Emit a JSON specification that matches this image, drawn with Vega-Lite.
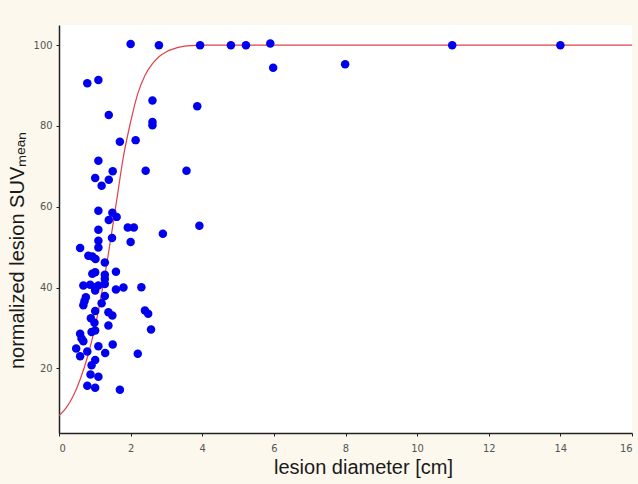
{
  "$schema": "https://vega.github.io/schema/vega-lite/v6.json",
  "width": 573,
  "height": 408,
  "autosize": {"type": "none"},
  "padding": {"left": 59, "top": 25, "right": 6, "bottom": 51},
  "background": "#fcf8ee",
  "view": {"fill": "#ffffff", "stroke": null},
  "config": {
    "axis": {
      "grid": false,
      "domainColor": "#222222",
      "domainWidth": 1.5,
      "tickColor": "#222222",
      "tickSize": 3,
      "labelFont": "Liberation Sans Narrow, DejaVu Sans Condensed, sans-serif",
      "labelFontSize": 11,
      "labelColor": "#555555",
      "titleFont": "Liberation Sans, Arial, sans-serif",
      "titleFontSize": 20,
      "titleFontWeight": "normal",
      "titleColor": "#1a1a1a"
    }
  },
  "datasets": {
    "pts": [
      {"d": 2.0, "suv": 100.3}, {"d": 2.79, "suv": 100}, {"d": 3.94, "suv": 100}, {"d": 4.8, "suv": 100},
      {"d": 5.22, "suv": 100}, {"d": 5.9, "suv": 100.4}, {"d": 5.98, "suv": 94.4}, {"d": 7.99, "suv": 95.3},
      {"d": 10.98, "suv": 100}, {"d": 14.0, "suv": 100}, {"d": 0.79, "suv": 90.6}, {"d": 1.1, "suv": 91.4},
      {"d": 1.39, "suv": 82.7}, {"d": 1.7, "suv": 76.1}, {"d": 2.14, "suv": 76.5}, {"d": 2.61, "suv": 86.3},
      {"d": 2.61, "suv": 81.0}, {"d": 2.61, "suv": 80.2}, {"d": 3.86, "suv": 84.9}, {"d": 1.1, "suv": 71.4},
      {"d": 1.01, "suv": 67.1}, {"d": 1.19, "suv": 65.2}, {"d": 1.39, "suv": 66.7}, {"d": 1.5, "suv": 68.8},
      {"d": 2.42, "suv": 68.9}, {"d": 3.56, "suv": 68.9}, {"d": 1.1, "suv": 59.0}, {"d": 1.49, "suv": 58.5},
      {"d": 1.61, "suv": 57.5}, {"d": 1.39, "suv": 56.7}, {"d": 1.92, "suv": 54.9}, {"d": 2.09, "suv": 54.9},
      {"d": 2.9, "suv": 53.3}, {"d": 3.92, "suv": 55.3}, {"d": 1.1, "suv": 54.3}, {"d": 1.48, "suv": 52.3},
      {"d": 2.0, "suv": 51.3}, {"d": 1.1, "suv": 51.6}, {"d": 1.1, "suv": 49.9}, {"d": 0.59, "suv": 49.8},
      {"d": 0.82, "suv": 47.9}, {"d": 0.93, "suv": 47.7}, {"d": 1.02, "suv": 47.1}, {"d": 1.28, "suv": 46.2},
      {"d": 0.93, "suv": 43.4}, {"d": 1.01, "suv": 43.8}, {"d": 1.28, "suv": 43.2}, {"d": 1.28, "suv": 42.1},
      {"d": 1.59, "suv": 43.9}, {"d": 0.68, "suv": 40.5}, {"d": 0.87, "suv": 40.7}, {"d": 1.01, "suv": 40.1},
      {"d": 1.1, "suv": 40.5}, {"d": 1.28, "suv": 40.9}, {"d": 1.01, "suv": 39.3}, {"d": 1.59, "suv": 39.5},
      {"d": 1.8, "suv": 40.0}, {"d": 2.3, "suv": 40.1}, {"d": 0.75, "suv": 37.6}, {"d": 0.71, "suv": 36.6},
      {"d": 0.68, "suv": 35.6}, {"d": 1.28, "suv": 37.9}, {"d": 1.19, "suv": 36.1}, {"d": 1.01, "suv": 34.2},
      {"d": 1.38, "suv": 33.9}, {"d": 1.49, "suv": 33.1}, {"d": 2.4, "suv": 34.3}, {"d": 2.49, "suv": 33.5},
      {"d": 0.89, "suv": 32.4}, {"d": 0.99, "suv": 31.3}, {"d": 1.38, "suv": 30.6}, {"d": 2.57, "suv": 29.6},
      {"d": 0.91, "suv": 29.0}, {"d": 1.01, "suv": 29.4}, {"d": 0.59, "suv": 28.6}, {"d": 0.63, "suv": 27.4},
      {"d": 0.68, "suv": 26.7}, {"d": 1.1, "suv": 25.5}, {"d": 1.5, "suv": 25.9}, {"d": 0.48, "suv": 24.9},
      {"d": 0.59, "suv": 23.0}, {"d": 0.79, "suv": 24.2}, {"d": 1.29, "suv": 23.8}, {"d": 2.2, "suv": 23.6},
      {"d": 1.01, "suv": 22.1}, {"d": 0.91, "suv": 20.8}, {"d": 0.88, "suv": 18.5}, {"d": 1.1, "suv": 17.9},
      {"d": 0.79, "suv": 15.7}, {"d": 1.01, "suv": 15.2}, {"d": 1.7, "suv": 14.7}
    ],
    "fit": [
      {"d": 0, "suv": 8.3}, {"d": 0.2, "suv": 10.2}, {"d": 0.4, "suv": 13.2}, {"d": 0.6, "suv": 17.5},
      {"d": 0.8, "suv": 23}, {"d": 1.0, "suv": 30}, {"d": 1.2, "suv": 39}, {"d": 1.4, "suv": 49.5},
      {"d": 1.6, "suv": 61}, {"d": 1.8, "suv": 72.5}, {"d": 2.0, "suv": 81}, {"d": 2.2, "suv": 88},
      {"d": 2.4, "suv": 92.5}, {"d": 2.6, "suv": 95.3}, {"d": 2.8, "suv": 97.2}, {"d": 3.0, "suv": 98.4},
      {"d": 3.2, "suv": 99.1}, {"d": 3.4, "suv": 99.6}, {"d": 3.7, "suv": 99.9}, {"d": 4.0, "suv": 100},
      {"d": 16, "suv": 100}
    ]
  },
  "encoding": {
    "x": {
      "field": "d", "type": "quantitative",
      "scale": {"domain": [0, 16], "nice": false},
      "axis": {"values": [0, 2, 4, 6, 8, 10, 12, 14, 16], "title": "lesion diameter [cm]", "labelPadding": 6, "titlePadding": 4, "titleX": 304}
    },
    "y": {
      "field": "suv", "type": "quantitative",
      "scale": {"domain": [4, 105], "nice": false, "zero": false},
      "axis": {"values": [20, 40, 60, 80, 100], "title": "normalized lesion SUVₘₑₐₙ", "labelPadding": 4, "titlePadding": 6, "titleY": 225}
    }
  },
  "layer": [
    {
      "data": {"name": "fit"},
      "mark": {"type": "line", "color": "#e0404a", "strokeWidth": 1.2, "interpolate": "monotone", "clip": true}
    },
    {
      "data": {"name": "pts"},
      "mark": {"type": "circle", "color": "#0000ee", "opacity": 1, "size": 72}
    }
  ]
}
